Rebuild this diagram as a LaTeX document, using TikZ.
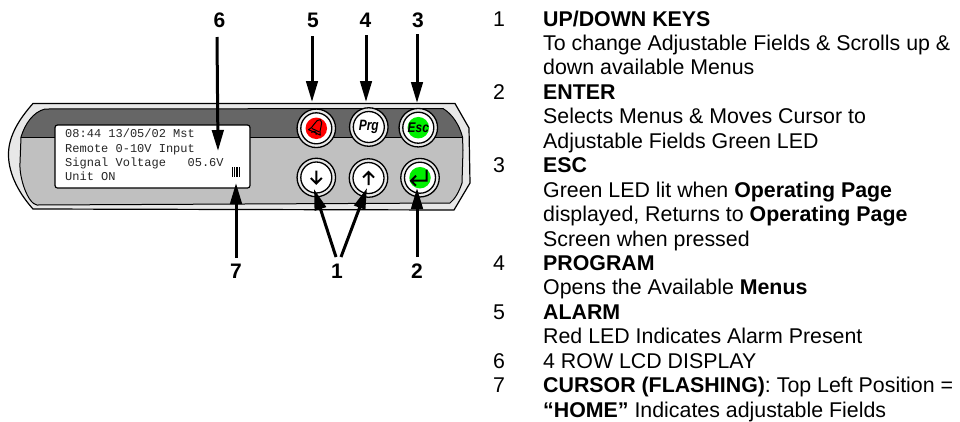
\documentclass[tikz,border=0pt]{standalone}
\usepackage{fontspec}
\setmainfont{Liberation Sans}
\newfontfamily\lcdfont{Liberation Mono}
\usetikzlibrary{arrows.meta}
\definecolor{bandlight}{HTML}{E8E8E8}
\definecolor{banddark}{HTML}{666666}
\definecolor{bandmid}{HTML}{C0C0C0}
\definecolor{ledgreen}{HTML}{00F000}
\tikzset{
  callout/.style={line width=3pt,-{Triangle[length=21pt,width=11.5pt]}},
  biglabel/.style={font=\fontsize{21}{24}\selectfont\bfseries,inner sep=0pt,outer sep=6pt},
  txt/.style={anchor=base west,inner sep=0pt,font=\fontsize{21.35}{24}\selectfont},
  lcd/.style={anchor=base west,inner sep=0pt,text=black!85,font=\lcdfont\fontsize{12}{14}\selectfont},
  ringout/.style={circle,draw=black,line width=1.3pt,fill=bandlight,minimum size=38.5pt,inner sep=0pt},
  ringin/.style={circle,draw=black,line width=1.3pt,fill=white,minimum size=31pt,inner sep=0pt},
  led/.style={circle,minimum size=21.5pt,inner sep=0pt},
  glyph/.style={line width=2pt,line join=miter},
}
\begin{document}
\begin{tikzpicture}[x=1pt,y=-1pt]
\useasboundingbox (0,0) rectangle (960,421);
% panel
\path[draw=black,line width=1.2pt,fill=bandlight]
  (33,103.5) -- (455,103.5) -- (469,128) -- (470,183) -- (454,210) -- (33,209)
  .. controls (16,190) and (8,170) .. (8.5,153)
  .. controls (9,135) and (20,118) .. (33,103.5) -- cycle;
\path[fill=bandmid]
  (21,137) -- (462.5,137) -- (463,150) -- (462,183)
  .. controls (459,192) and (455,199) .. (450,203)
  -- (37,205) .. controls (28,204) and (19,178) .. (20,163) -- cycle;
\path[fill=banddark]
  (45,109) -- (443,108.5) .. controls (452,114) and (459,124) .. (462.5,137)
  -- (21,137) .. controls (25,124) and (33,112) .. (45,109) -- cycle;
\draw[line width=1pt]
  (45,109) -- (443,108.5) .. controls (452,114) and (459,124) .. (462.5,137)
  -- (463,150) -- (462,183) .. controls (459,192) and (455,199) .. (450,203)
  -- (37,205) .. controls (28,204) and (19,178) .. (20,163)
  -- (21,137) .. controls (25,124) and (33,112) .. (45,109) -- cycle;
\draw[line width=0.8pt] (21,137) -- (462.5,137);
% LCD
\node[draw=black,line width=1.2pt,fill=white,rounded corners=2.5pt,minimum width=195pt,minimum height=63pt,inner sep=0pt] (screen) at (152.5,156.5) {};
\node[lcd] (l1) at (65,137) {08:44 13/05/02 Mst};
\node[lcd] (l2) at (65,152) {Remote 0-10V Input};
\node[lcd] (l3) at (65,166) {Signal Voltage\ \ \ 05.6V};
\node[lcd] (l4) at (65,180) {Unit ON};
\foreach \cx in {232.8,234.4,236,237.6,239.2}
  \draw[line width=0.7pt] (\cx,167) -- (\cx,177);
% buttons
\foreach \n/\px/\py in {alarm/316.3/128.3,prg/368.8/127,esc/418.3/127.7,down/316.3/177.5,up/368.5/178,enter/420/177.7}{
  \node[ringout] (\n o) at (\px,\py) {};
  \node[ringin] (\n) at (\px,\py) {};
}
\node[led,fill=red] (alarmled) at (alarm) {};
\node[led,fill=ledgreen] (escled) at (esc) {};
\node[led,fill=ledgreen] (enterled) at (enter) {};
\node[inner sep=0pt,xscale=.8,font=\fontsize{15}{16}\selectfont\bfseries\itshape] (prgt) at (prg) {Prg};
\node[inner sep=0pt,xscale=.85,font=\fontsize{14}{14}\selectfont\bfseries\itshape] (esct) at (esc) {Esc};
% bell
\begin{scope}[shift={(alarm)},rotate=-25,line width=1pt,line join=round]
  \draw (-6.5,4.5) .. controls (-3,2) and (-4.5,-9) .. (0,-9.5)
        .. controls (4.5,-9) and (3,2) .. (6.5,4.5) -- cycle;
  \draw (-2.5,6) arc[start angle=180,end angle=360,radius=2.5];
  \draw (-4,2) -- (4,2);
\end{scope}
% key glyphs
\draw[glyph] (down)+(0,-7) -- +(0,6) +(-5.5,0.5) -- +(0,6) -- +(5.5,0.5);
\draw[glyph] (up)+(0,7) -- +(0,-6) +(-5.5,-0.5) -- +(0,-6) -- +(5.5,-0.5);
\draw[glyph] (enter)+(6.5,-8) -- +(6.5,3) -- +(-9,3) +(-4,-2) -- +(-9,3) -- +(-4,8);
% callouts
\node[biglabel,anchor=base] (lab6) at (219.5,27.5) {6};
\node[biglabel,anchor=base] (lab5) at (313,27) {5};
\node[biglabel,anchor=base] (lab4) at (365.5,27) {4};
\node[biglabel,anchor=base] (lab3) at (418,27) {3};
\node[biglabel,anchor=base] (lab7) at (236,278) {7};
\node[biglabel,anchor=base] (lab1) at (337,278) {1};
\node[biglabel,anchor=base] (lab2) at (417,278) {2};
\coordinate (t6) at (218,151);
\coordinate (t5) at (312,102);
\coordinate (t4) at (366,102);
\coordinate (t3) at (417,103);
\coordinate (t7) at (236,183);
\coordinate (t1a) at (314,189);
\coordinate (t1b) at (367,188);
\coordinate (t2) at (417,188);
\coordinate (s6) at (217,37);
\coordinate (s5) at (312,36);
\coordinate (s4) at (366,35);
\coordinate (s3) at (417,34);
\coordinate (s7) at (236,258);
\coordinate (s1a) at (336,257);
\coordinate (s1b) at (341,257);
\coordinate (s2) at (417,257);
\draw[callout] (s6) -- (t6);
\draw[callout] (s5) -- (t5);
\draw[callout] (s4) -- (t4);
\draw[callout] (s3) -- (t3);
\draw[callout] (s7) -- (t7);
\draw[callout] (s1a) -- (t1a);
\draw[callout] (s1b) -- (t1b);
\draw[callout] (s2) -- (t2);
% legend
\node[txt] (n1) at (493,26) {1};
\node[txt] (a1) at (543,26) {\textbf{UP/DOWN KEYS}};
\node[txt] (a2) at (543,50.4) {To change Adjustable Fields \& Scrolls up \&};
\node[txt] (a3) at (543,74.9) {down available Menus};
\node[txt] (n2) at (493,99.3) {2};
\node[txt] (b1) at (543,99.3) {\textbf{ENTER}};
\node[txt] (b2) at (543,123.8) {Selects Menus \& Moves Cursor to};
\node[txt] (b3) at (543,148.2) {Adjustable Fields Green LED};
\node[txt] (n3) at (493,172.6) {3};
\node[txt] (c1) at (543,172.6) {\textbf{ESC}};
\node[txt] (c2) at (543,197.1) {Green LED lit when \textbf{Operating Page}};
\node[txt] (c3) at (543,221.5) {displayed, Returns to \textbf{Operating Page}};
\node[txt] (c4) at (543,246) {Screen when pressed};
\node[txt] (n4) at (493,270.4) {4};
\node[txt] (d1) at (543,270.4) {\textbf{PROGRAM}};
\node[txt] (d2) at (543,294.8) {Opens the Available \textbf{Menus}};
\node[txt] (n5) at (493,319.3) {5};
\node[txt] (e1) at (543,319.3) {\textbf{ALARM}};
\node[txt] (e2) at (543,343.7) {Red LED Indicates Alarm Present};
\node[txt] (n6) at (493,368.2) {6};
\node[txt] (f1) at (543,368.2) {4 ROW LCD DISPLAY};
\node[txt] (n7) at (493,392.6) {7};
\node[txt] (g1) at (543,392.6) {\textbf{CURSOR (FLASHING)}: Top Left Position =};
\node[txt] (g2) at (543,417) {\textbf{“HOME”} Indicates adjustable Fields};
\end{tikzpicture}
\end{document}
